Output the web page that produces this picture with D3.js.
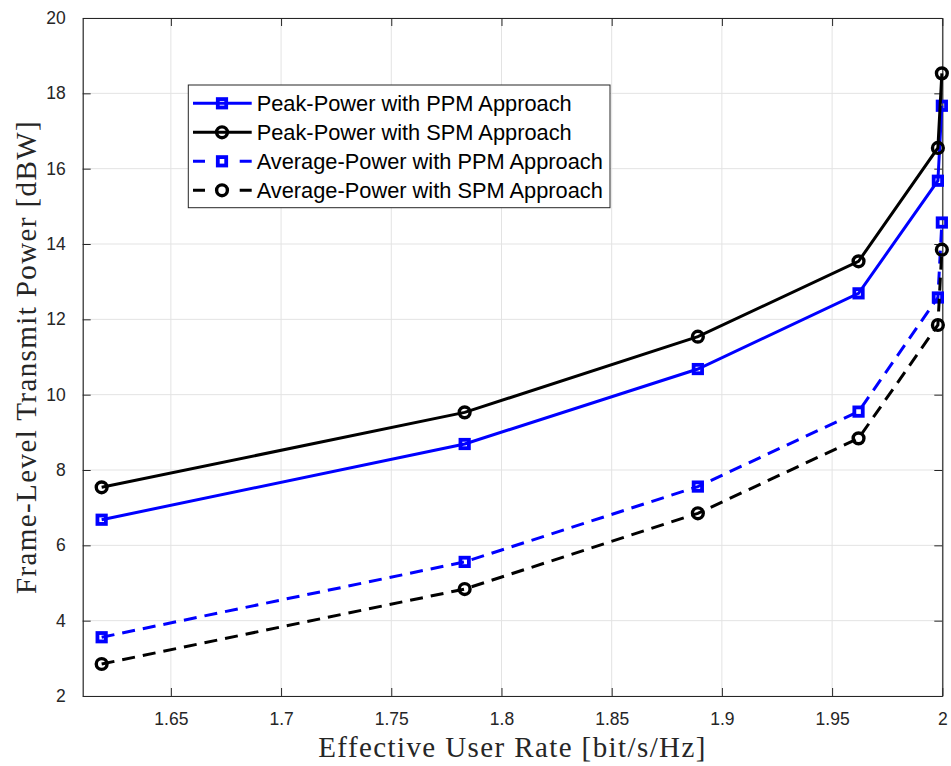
<!DOCTYPE html>
<html>
<head>
<meta charset="utf-8">
<script src="https://cdn.jsdelivr.net/npm/d3@7"></script>
<style>
  body { margin: 0; background: #fff; }
  svg { display: block; }
</style>
</head>
<body>
<div class="canvas"></div>
<script>
// values
const rateX = [1.6186, 1.7833, 1.8891, 1.962, 1.998, 1.9998];
const peakPPM = [6.68, 8.69, 10.68, 12.69, 15.68, 17.67];
const peakSPM = [7.54, 9.53, 11.54, 13.54, 16.55, 18.53];
const avgPPM = [3.56, 5.56, 7.56, 9.55, 12.58, 14.57];
const avgSPM = [2.85, 4.84, 6.85, 8.84, 11.85, 13.85];
const xTicks = [1.65, 1.7, 1.75, 1.8, 1.85, 1.9, 1.95, 2];
const yTicks = [2, 4, 6, 8, 10, 12, 14, 16, 18, 20];
const seriesNames = [
  'Peak-Power with PPM Approach',
  'Peak-Power with SPM Approach',
  'Average-Power with PPM Approach',
  'Average-Power with SPM Approach'
];

const width = 951;
const height = 766;
const margin = {top: 18, right: 8.7, bottom: 70, left: 82.7};
const graphWidth = width - margin.left - margin.right;
const graphHeight = height - margin.top - margin.bottom;

const series = [
  {name: seriesNames[0], values: peakPPM, color: '#0000ff', marker: 'square', dash: null},
  {name: seriesNames[1], values: peakSPM, color: '#000000', marker: 'circle', dash: null},
  {name: seriesNames[2], values: avgPPM, color: '#0000ff', marker: 'square', dash: '13,8'},
  {name: seriesNames[3], values: avgSPM, color: '#000000', marker: 'circle', dash: '13,8'}
];

const svg = d3.select('.canvas')
  .append('svg')
  .attr('width', width)
  .attr('height', height);

svg.append('rect').attr('width', width).attr('height', height).attr('fill', '#fff');

const graph = svg.append('g')
  .attr('transform', `translate(${margin.left}, ${margin.top})`);

const x = d3.scaleLinear().domain([1.61, 2]).range([0, graphWidth]);
const y = d3.scaleLinear().domain([2, 20]).range([graphHeight, 0]);

// grid
graph.append('g')
  .selectAll('line.gx')
  .data(xTicks)
  .enter().append('line')
  .attr('x1', d => x(d)).attr('x2', d => x(d))
  .attr('y1', 0).attr('y2', graphHeight)
  .attr('stroke', '#e3e3e3').attr('stroke-width', 1);
graph.append('g')
  .selectAll('line.gy')
  .data(yTicks)
  .enter().append('line')
  .attr('x1', 0).attr('x2', graphWidth)
  .attr('y1', d => y(d)).attr('y2', d => y(d))
  .attr('stroke', '#e3e3e3').attr('stroke-width', 1);

// axes (ticks inside, box on)
const axisColor = '#262626';
const tickLen = 8;
const gXAxis = graph.append('g').attr('transform', `translate(0, ${graphHeight})`);
gXAxis.call(d3.axisBottom(x).tickValues(xTicks).tickSizeInner(-tickLen).tickSizeOuter(0).tickPadding(17)
  .tickFormat(d => d3.format('')(+d.toFixed(2))));
const gYAxis = graph.append('g');
gYAxis.call(d3.axisLeft(y).tickValues(yTicks).tickSizeInner(-tickLen).tickSizeOuter(0).tickPadding(17));
const gTop = graph.append('g');
gTop.call(d3.axisTop(x).tickValues(xTicks).tickSizeInner(-tickLen).tickSizeOuter(0).tickFormat(''));
const gRight = graph.append('g').attr('transform', `translate(${graphWidth}, 0)`);
gRight.call(d3.axisRight(y).tickValues(yTicks).tickSizeInner(-tickLen).tickSizeOuter(0).tickFormat(''));

[gXAxis, gYAxis, gTop, gRight].forEach(g => {
  g.select('.domain').attr('stroke', axisColor).attr('stroke-width', 1.2);
  g.selectAll('.tick line').attr('stroke', axisColor).attr('stroke-width', 1);
  g.selectAll('text')
    .style('font-family', '"Liberation Sans", Arial, sans-serif')
    .style('font-size', '17.5px')
    .attr('fill', axisColor);
});

// axis titles
graph.append('text')
  .attr('x', graphWidth / 2)
  .attr('y', graphHeight + 61)
  .style('text-anchor', 'middle')
  .style('font-family', '"Liberation Serif", "DejaVu Serif", serif')
  .style('font-size', '29px')
  .style('letter-spacing', '1.4px')
  .attr('fill', axisColor)
  .text('Effective User Rate [bit/s/Hz]');

graph.append('text')
  .attr('transform', `translate(${36 - margin.left}, ${graphHeight / 2}) rotate(-90)`)
  .style('text-anchor', 'middle')
  .style('font-family', '"Liberation Serif", "DejaVu Serif", serif')
  .style('font-size', '29px')
  .style('letter-spacing', '1.4px')
  .attr('fill', axisColor)
  .text('Frame-Level Transmit Power [dBW]');

// lines and markers
const line = d3.line().x((d, i) => x(rateX[i])).y(d => y(d));

function drawMarker(g, type, cx, cy, color) {
  if (type === 'square') {
    g.append('rect')
      .attr('x', cx - 4.2).attr('y', cy - 4.2)
      .attr('width', 8.4).attr('height', 8.4)
      .attr('fill', 'none').attr('stroke', color).attr('stroke-width', 3.8);
  } else {
    g.append('circle')
      .attr('cx', cx).attr('cy', cy).attr('r', 5.4)
      .attr('fill', 'none').attr('stroke', color).attr('stroke-width', 3.4);
  }
}

series.forEach(s => {
  graph.append('path')
    .datum(s.values)
    .attr('d', line)
    .attr('fill', 'none')
    .attr('stroke', s.color)
    .attr('stroke-width', 3)
    .attr('stroke-dasharray', s.dash);
  const gm = graph.append('g');
  s.values.forEach((v, i) => drawMarker(gm, s.marker, x(rateX[i]), y(v), s.color));
});

// legend
const legend = svg.append('g').attr('transform', 'translate(188.3, 85)');
legend.append('rect')
  .attr('width', 421.7).attr('height', 122.7)
  .attr('fill', '#fff').attr('stroke', axisColor).attr('stroke-width', 1);
series.forEach((s, i) => {
  const cy = 18.3 + i * 29;
  legend.append('line')
    .attr('x1', 4.7).attr('x2', 63.4)
    .attr('y1', cy).attr('y2', cy)
    .attr('stroke', s.color).attr('stroke-width', 3)
    .attr('stroke-dasharray', s.dash ? '12,34.7' : null);
  drawMarker(legend, s.marker, 33.7, cy, s.color);
  legend.append('text')
    .attr('x', 68.4).attr('y', cy)
    .attr('dy', '0.36em')
    .style('font-family', '"Liberation Sans", Arial, sans-serif')
    .style('font-size', '21.8px')
    .attr('fill', '#000')
    .text(s.name);
});
</script>
</body>
</html>
